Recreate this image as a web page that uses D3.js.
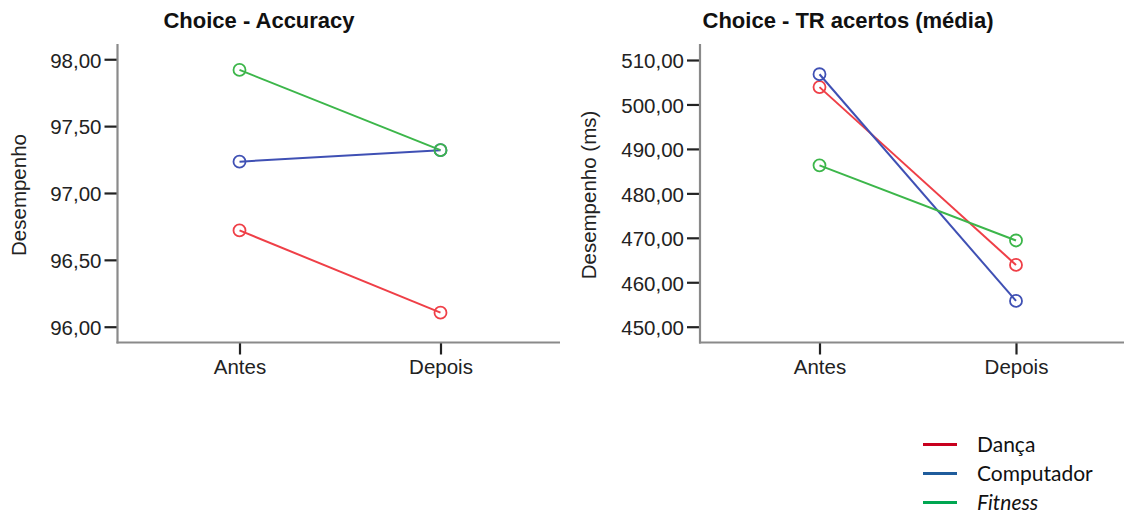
<!DOCTYPE html>
<html>
<head>
<meta charset="utf-8">
<script src="https://cdn.jsdelivr.net/npm/d3@7"></script>
<style>
  body { margin: 0; background: #fff; }
  svg { display: block; }
</style>
</head>
<body>
<div class="container"></div>
<script>
const w = 1124;
const h = 515;
const sans = '"Liberation Sans", Arial, Helvetica, sans-serif';

// data
const timepoints = ['Antes', 'Depois'];
const groups = ['Dança', 'Computador', 'Fitness'];

const accDanca = [96.72, 96.105];
const accComputador = [97.234, 97.32];
const accFitness = [97.92, 97.32];
const accTicks = [96, 96.5, 97, 97.5, 98];

const trDanca = [503.9, 463.9];
const trComputador = [506.8, 455.8];
const trFitness = [486.3, 469.4];
const trTicks = [450, 460, 470, 480, 490, 500, 510];

// line colours in the plots and in the legend (legend is a separate Excel-like block)
const lineColors = ['#ef3f47', '#3f50b4', '#3cb64a'];
const legendColors = ['#c8001e', '#1f5c9c', '#00a651'];

const ptFormat = d3.formatLocale({decimal: ',', thousands: '.', grouping: [3], currency: ['', '']}).format('.2f');

const svg = d3.select('.container')
              .append('svg')
              .attr('width', w)
              .attr('height', h);

function drawPanel(cfg) {
  const g = svg.append('g');

  const x = d3.scalePoint()
              .domain(timepoints)
              .range(cfg.xRange);
  const y = d3.scaleLinear()
              .domain(cfg.yDomain)
              .range([342.5, 44]);

  // title
  g.append('text')
   .text(cfg.title)
   .attr('x', cfg.titleX)
   .attr('y', 28)
   .attr('text-anchor', 'middle')
   .style('font-family', sans)
   .style('font-weight', 'bold')
   .style('font-size', '22px')
   .style('fill', '#111');

  // y label
  g.append('text')
   .text(cfg.yLabel)
   .attr('text-anchor', 'middle')
   .attr('transform', `translate(${cfg.yLabelX}, 195) rotate(-90)`)
   .style('font-family', sans)
   .style('font-size', '20.5px')
   .style('fill', '#222');

  // y axis
  const yAxis = d3.axisLeft(y)
                  .tickValues(cfg.ticks)
                  .tickFormat(ptFormat)
                  .tickSize(13)
                  .tickPadding(3)
                  .tickSizeOuter(0);
  const ya = g.append('g')
              .attr('transform', `translate(${cfg.axisX}, 0)`)
              .call(yAxis);
  ya.select('.domain').remove();
  ya.selectAll('.tick line').attr('stroke', '#222').attr('stroke-width', 2.2);
  ya.selectAll('.tick text')
    .attr('dy', '0.38em')
    .style('font-family', sans)
    .style('font-size', '20.5px')
    .style('fill', '#222');

  // x axis
  const xAxis = d3.axisBottom(x)
                  .tickSize(12)
                  .tickPadding(5)
                  .tickSizeOuter(0);
  const xa = g.append('g')
              .attr('transform', 'translate(0, 342.5)')
              .call(xAxis);
  xa.select('.domain').remove();
  xa.selectAll('.tick line').attr('stroke', '#222').attr('stroke-width', 2.2);
  xa.selectAll('.tick text')
    .style('font-family', sans)
    .style('font-size', '20.5px')
    .style('fill', '#222');

  // axis frame lines (gray, like SPSS)
  g.append('line')
   .attr('x1', cfg.axisX).attr('x2', cfg.axisX)
   .attr('y1', 44).attr('y2', 343.5)
   .attr('stroke', '#8a8a8a').attr('stroke-width', 2.2);
  g.append('line')
   .attr('x1', cfg.axisX - 1).attr('x2', cfg.axisEnd)
   .attr('y1', 342.5).attr('y2', 342.5)
   .attr('stroke', '#8a8a8a').attr('stroke-width', 2.2);

  const line = d3.line()
                 .x((d, i) => x(timepoints[i]))
                 .y((d) => y(d));

  cfg.series.forEach((vals, k) => {
    g.append('path')
     .datum(vals)
     .attr('d', line)
     .attr('fill', 'none')
     .attr('stroke', lineColors[k])
     .attr('stroke-width', 2);
  });
  cfg.series.forEach((vals, k) => {
    g.selectAll(null)
     .data(vals)
     .enter()
     .append('circle')
     .attr('cx', (d, i) => x(timepoints[i]))
     .attr('cy', (d) => y(d))
     .attr('r', 6)
     .attr('fill', 'none')
     .attr('stroke', lineColors[k])
     .attr('stroke-width', 1.8);
  });
}

drawPanel({
  title: 'Choice - Accuracy',
  titleX: 259,
  yLabel: 'Desempenho',
  yLabelX: 26,
  axisX: 117.5,
  axisEnd: 560,
  xRange: [239.5, 440.5],
  yDomain: [95.882, 98.114],
  ticks: accTicks,
  series: [accDanca, accComputador, accFitness]
});

drawPanel({
  title: 'Choice - TR acertos (média)',
  titleX: 848,
  yLabel: 'Desempenho (ms)',
  yLabelX: 596,
  axisX: 700,
  axisEnd: 1124,
  xRange: [819.5, 1016],
  yDomain: [446.45, 513.6],
  ticks: trTicks,
  series: [trDanca, trComputador, trFitness]
});

// legend
const legend = svg.append('g');
groups.forEach((name, i) => {
  const ly = 444.5 + i * 29;
  legend.append('line')
        .attr('x1', 923).attr('x2', 957)
        .attr('y1', ly).attr('y2', ly)
        .attr('stroke', legendColors[i])
        .attr('stroke-width', 3);
  legend.append('text')
        .text(name)
        .attr('x', 977)
        .attr('y', ly + 7)
        .style('font-family', 'Lato, "Open Sans", sans-serif')
        .style('font-size', '21px')
        .style('font-style', name === 'Fitness' ? 'italic' : 'normal')
        .style('fill', '#111');
});
</script>
</body>
</html>
